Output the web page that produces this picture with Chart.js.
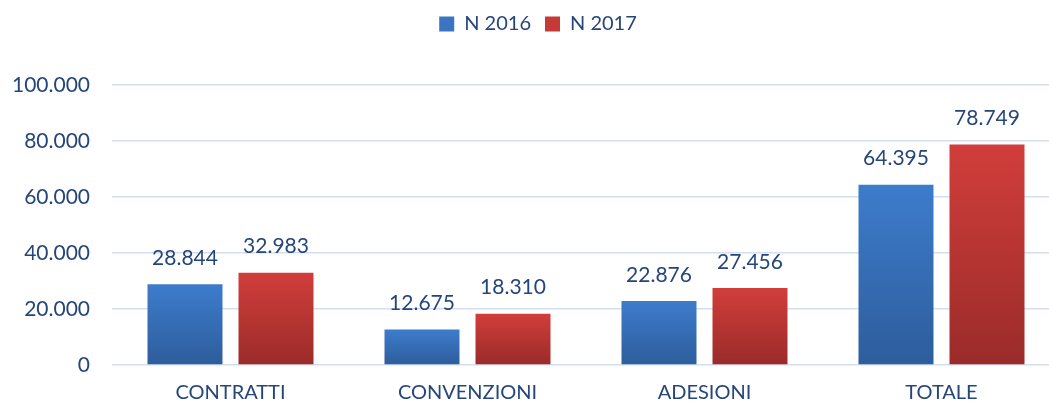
<!DOCTYPE html>
<html>
<head>
<meta charset="utf-8">
<script src="https://cdn.jsdelivr.net/npm/chart.js@4"></script>
<style>
  body { margin: 0; background: #fff; overflow: hidden; }
  #wrap { width: 1060px; height: 405px; }
</style>
</head>
<body>
<div id="wrap"><canvas id="myChart" width="1060" height="405"></canvas></div>
<script>
// chart values
var categories = ["CONTRATTI", "CONVENZIONI", "ADESIONI", "TOTALE"]
var n2016 = [28844, 12675, 22876, 64395]
var n2017 = [32983, 18310, 27456, 78749]
var yTicks = [0, 20000, 40000, 60000, 80000, 100000]

var textColor = "#25467a"
var fontName = "Lato"

function fmt(v){
    return String(v).replace(/\B(?=(\d{3})+(?!\d))/g, ".")
}

// gradient per bar, lighter on top
function barGradient(top, bottom){
    return function(context){
        var chart = context.chart
        var y = chart.scales.y
        if (!y || context.raw == null) return top
        var y0 = y.getPixelForValue(context.raw)
        var y1 = y.getPixelForValue(0)
        if (!isFinite(y0) || !isFinite(y1) || y0 === y1) return top
        var g = chart.ctx.createLinearGradient(0, y0, 0, y1)
        g.addColorStop(0, top)
        g.addColorStop(1, bottom)
        return g
    }
}

var valueLabels = {
    id: "valueLabels",
    afterDatasetsDraw: function(chart){
        var ctx = chart.ctx
        ctx.save()
        ctx.font = "21px " + fontName
        ctx.fillStyle = textColor
        ctx.textAlign = "center"
        ctx.textBaseline = "middle"
        chart.data.datasets.forEach(function(ds, i){
            chart.getDatasetMeta(i).data.forEach(function(el, j){
                ctx.fillText(fmt(ds.data[j]), el.x, el.y - 26)
            })
        })
        ctx.restore()
    }
}

// fixed legend height, legend nudged a bit to the right
var legendTweak = {
    id: "legendTweak",
    beforeInit: function(chart){
        var orig = chart.legend.fit
        chart.legend.fit = function(){
            orig.bind(chart.legend)()
            this.height = 85
        }
    },
    afterLayout: function(chart){
        chart.legend.left += 8
        chart.legend.right += 8
    }
}

var ctx = document.getElementById("myChart").getContext("2d")

var chart = new Chart(ctx, {
    type: "bar",
    data: {
        labels: categories,
        datasets: [
            {
                label: "N 2016",
                data: n2016,
                backgroundColor: barGradient("#3d7ccc", "#2d5d9b"),
                categoryPercentage: 0.768,
                barPercentage: 0.824
            },
            {
                label: "N 2017",
                data: n2017,
                backgroundColor: barGradient("#d13e3b", "#9a2b29"),
                categoryPercentage: 0.768,
                barPercentage: 0.824
            }
        ]
    },
    options: {
        responsive: false,
        animation: false,
        layout: { padding: { left: 0, right: 0, top: 0, bottom: 0 } },
        plugins: {
            legend: {
                position: "top",
                labels: {
                    font: { family: fontName, size: 20 },
                    color: textColor,
                    boxWidth: 15,
                    boxHeight: 15,
                    padding: 14,
                    generateLabels: function(chart){
                        var cols = ["#3a75c2", "#c43a38"]
                        return chart.data.datasets.map(function(ds, i){
                            return {
                                text: ds.label,
                                fillStyle: cols[i],
                                strokeStyle: cols[i],
                                lineWidth: 0,
                                fontColor: textColor,
                                datasetIndex: i
                            }
                        })
                    }
                }
            },
            tooltip: { enabled: false }
        },
        scales: {
            x: {
                grid: { display: false },
                border: { display: false },
                ticks: {
                    font: { family: fontName, size: 20 },
                    color: textColor,
                    padding: 8
                },
                afterFit: function(scale){ scale.height = 40 }
            },
            y: {
                min: 0,
                max: 100000,
                afterBuildTicks: function(scale){
                    scale.ticks = yTicks.map(function(v){ return { value: v } })
                },
                grid: {
                    color: "#d3def0",
                    lineWidth: 1.5,
                    drawTicks: false
                },
                border: { display: false },
                ticks: {
                    font: { family: fontName, size: 21 },
                    color: textColor,
                    padding: 22,
                    callback: function(v){ return fmt(v) }
                },
                afterFit: function(scale){ scale.width = 112 }
            }
        }
    },
    plugins: [valueLabels, legendTweak]
})
</script>
</body>
</html>
